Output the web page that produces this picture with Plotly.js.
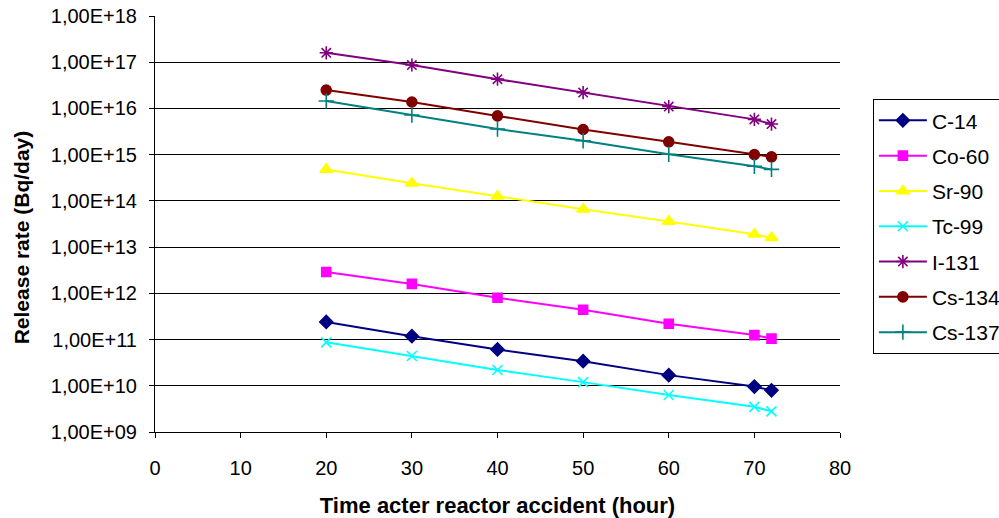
<!DOCTYPE html>
<html>
<head>
<meta charset="utf-8">
<script src="https://cdn.plot.ly/plotly-3.0.1.min.js"></script>
<style>html,body{margin:0;padding:0;background:#fff;}#chart{width:999px;height:518px;}</style>
</head>
<body>
<div id="chart"></div>
<script>
const hours = [20, 30, 40, 50, 60, 70, 72];
const names = ["C-14", "Co-60", "Sr-90", "Tc-99", "I-131", "Cs-134", "Cs-137"];
const c14   = [2.4e11, 1.18e11, 6.1e10, 3.4e10, 1.7e10, 9.6e9, 8.0e9];
const co60  = [2.9e12, 1.6e12, 8.0e11, 4.4e11, 2.2e11, 1.25e11, 1.05e11];
const sr90  = [4.8e14, 2.4e14, 1.26e14, 6.6e13, 3.6e13, 1.9e13, 1.6e13];
const tc99  = [8.7e10, 4.4e10, 2.2e10, 1.2e10, 6.3e9, 3.5e9, 2.8e9];
const i131  = [1.6e17, 8.7e16, 4.3e16, 2.2e16, 1.1e16, 5.8e15, 4.6e15];
const cs134 = [2.5e16, 1.38e16, 6.9e15, 3.5e15, 1.9e15, 1.0e15, 9.0e14];
const cs137 = [1.45e16, 7.2e15, 3.6e15, 2.0e15, 1.02e15, 5.6e14, 4.8e14];
const yTickVals = [1e9, 1e10, 1e11, 1e12, 1e13, 1e14, 1e15, 1e16, 1e17, 1e18];
const yTickText = ["1,00E+09","1,00E+10","1,00E+11","1,00E+12","1,00E+13","1,00E+14","1,00E+15","1,00E+16","1,00E+17","1,00E+18"];
const xTitle = "Time acter reactor accident (hour)";
const yTitle = "Release rate (Bq/day)";

const series = [c14, co60, sr90, tc99, i131, cs134, cs137];
const colors = ["#000080", "#FF00FF", "#FFFF00", "#00FFFF", "#800080", "#800000", "#008080"];
const symbols = ["diamond", "square", "triangle-up", "x-thin-open", "asterisk-open", "circle", "cross-thin-open"];
const sizes = [10, 9, 11, 10, 11, 10, 11];

const traces = series.map((ys, i) => ({
  x: hours, y: ys, name: names[i], type: "scatter", mode: "lines+markers",
  legendgroup: "g" + i,
  line: {color: colors[i], width: 2},
  marker: {symbol: symbols[i], size: sizes[i], color: colors[i], line: {color: colors[i], width: 1.6}}
}));

const layout = {
  width: 999, height: 518,
  margin: {l: 155, r: 159, t: 16, b: 86, autoexpand: false},
  paper_bgcolor: "#fff", plot_bgcolor: "#fff",
  font: {family: "Liberation Sans, Arial, sans-serif", size: 20, color: "#000"},
  showlegend: true,
  legend: {x: 1.048, xanchor: "left", y: 0.80, yanchor: "top",
    bordercolor: "#000", borderwidth: 1, bgcolor: "#fff",
    font: {size: 21, family: "Liberation Sans, Arial, sans-serif"},
    tracegroupgap: 5, itemwidth: 48},
  xaxis: {range: [0, 80], dtick: 10, tick0: 0, showgrid: false, zeroline: false,
    showline: true, linecolor: "#000", linewidth: 1, ticks: "outside", ticklen: 5, tickcolor: "#000",
    tickfont: {size: 20}, ticklabelstandoff: 13,
    title: {text: "<b>" + xTitle + "</b>", font: {size: 22}, standoff: 22}},
  yaxis: {type: "log", range: [9, 18], tickvals: yTickVals, ticktext: yTickText,
    showgrid: true, gridcolor: "#000", gridwidth: 1, zeroline: false,
    showline: true, linecolor: "#000", linewidth: 1, ticks: "outside", ticklen: 5, tickcolor: "#000",
    tickfont: {size: 20}, ticklabelstandoff: 8},
  annotations: [{
    text: "<b>" + yTitle + "</b>", textangle: -90, showarrow: false,
    xref: "paper", yref: "paper", x: -0.195, y: 0.469, xanchor: "center", yanchor: "middle",
    font: {size: 21, color: "#000"}
  }]
};

Plotly.newPlot("chart", traces, layout, {displayModeBar: false, staticPlot: true});
</script>
</body>
</html>
